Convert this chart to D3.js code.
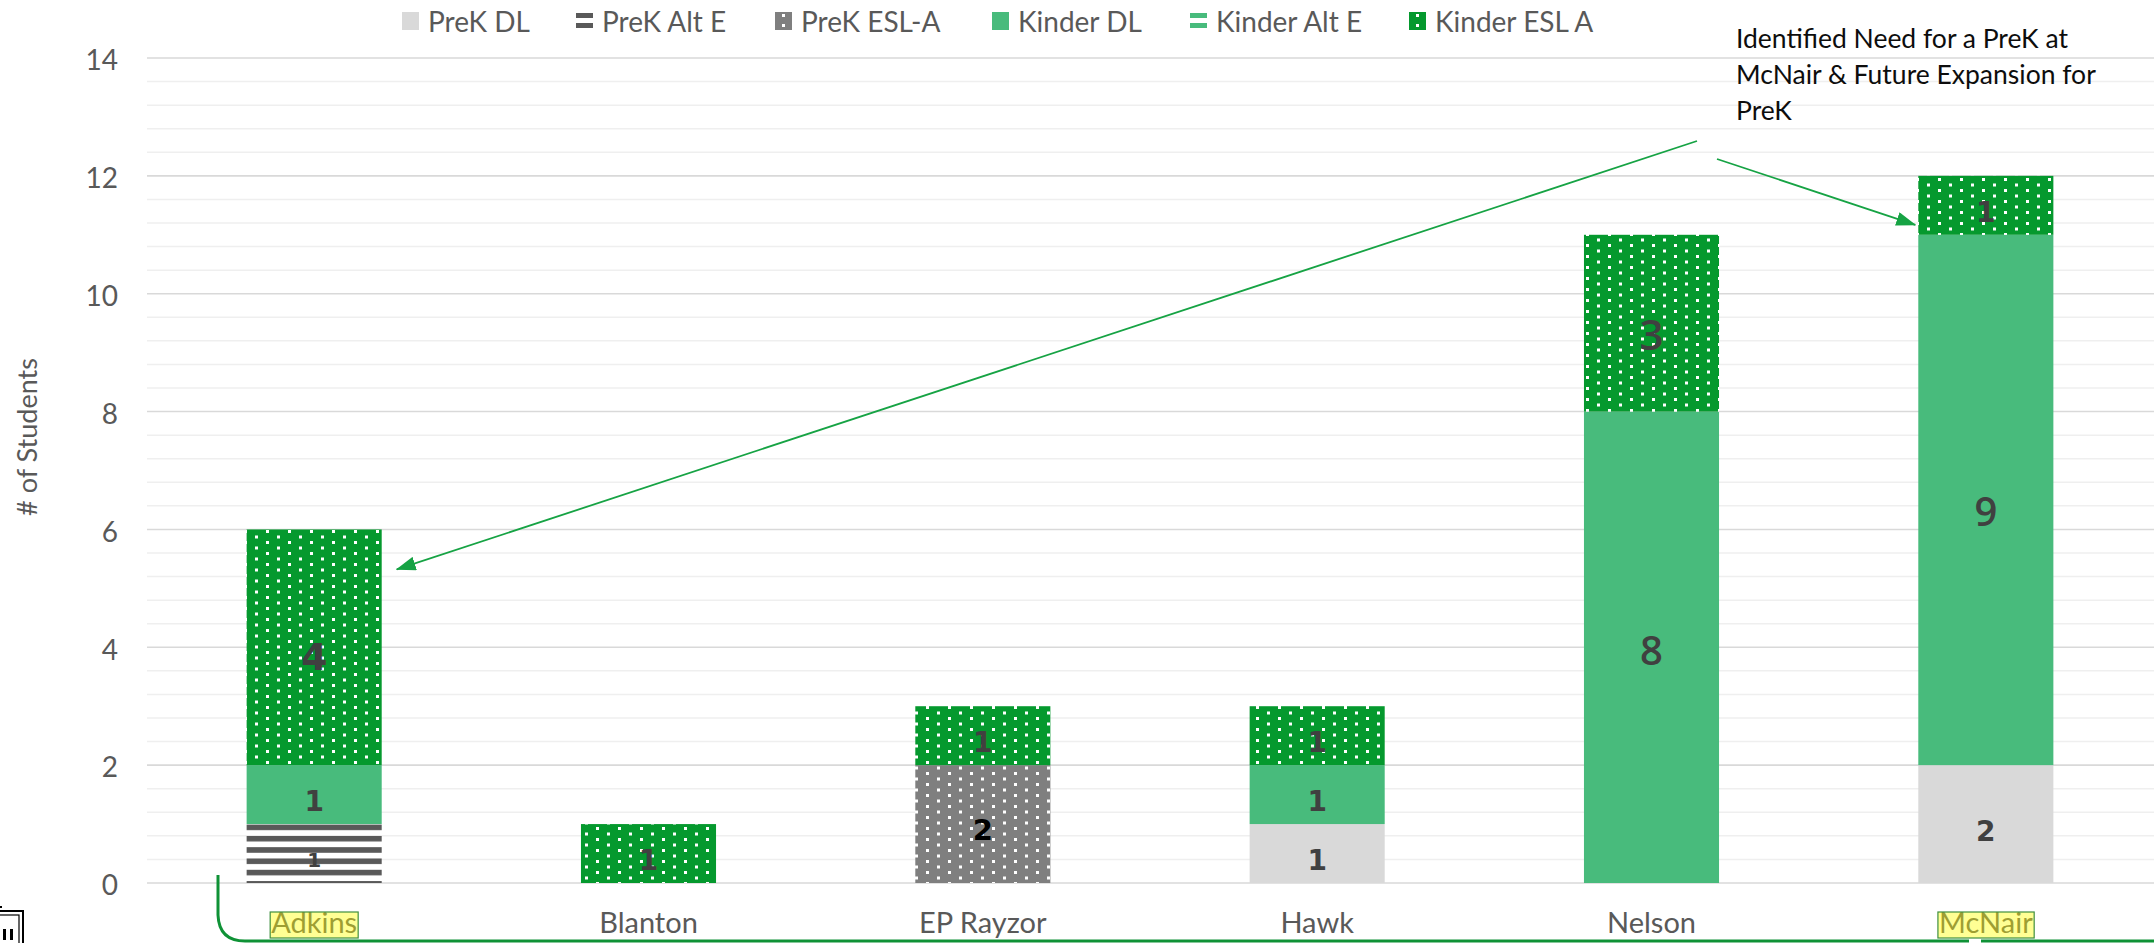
<!DOCTYPE html>
<html>
<head>
<meta charset="utf-8">
<script src="https://cdn.jsdelivr.net/npm/d3@7"></script>
<style>
  html, body { margin: 0; padding: 0; background: #ffffff; }
  svg { display: block; }
</style>
</head>
<body>
<script>
// ---------- DATA ----------
const categories = ["Adkins", "Blanton", "EP Rayzor", "Hawk", "Nelson", "McNair"];
const seriesNames = ["PreK DL", "PreK Alt E", "PreK ESL-A", "Kinder DL", "Kinder Alt E", "Kinder ESL A"];
const prekDL     = [0, 0, 0, 1, 0, 2];
const prekAltE   = [1, 0, 0, 0, 0, 0];
const prekESLA   = [0, 0, 2, 0, 0, 0];
const kinderDL   = [1, 0, 0, 1, 8, 9];
const kinderAltE = [0, 0, 0, 0, 0, 0];
const kinderESLA = [4, 1, 1, 1, 3, 1];
const yTicks = [0, 2, 4, 6, 8, 10, 12, 14];
const highlighted = ["Adkins", "McNair"];
const annotationLines = ["Identified Need for a PreK at", "McNair & Future Expansion for", "PreK"];
const yTitle = "# of Students";

// ---------- LAYOUT / STYLE ----------
const W = 2154, H = 943;
const seriesValues = [prekDL, prekAltE, prekESLA, kinderDL, kinderAltE, kinderESLA];
const table = categories.map((c, i) => {
  const row = { category: c };
  seriesNames.forEach((s, j) => row[s] = seriesValues[j][i]);
  return row;
});

const fills = {
  "PreK DL": "#d9d9d9",
  "PreK Alt E": "url(#stripeGray)",
  "PreK ESL-A": "url(#dotGray)",
  "Kinder DL": "#48bb7c",
  "Kinder Alt E": "url(#stripeGreen)",
  "Kinder ESL A": "url(#dotGreen)"
};

const svg = d3.select("body").append("svg").attr("width", W).attr("height", H);

const x = d3.scaleBand().domain(categories).range([147, 2153]).paddingInner(0.596).paddingOuter(0.298);
const y = d3.scaleLinear().domain([0, 14]).range([883, 58]);

// patterns
const defs = svg.append("defs");
function dotPattern(id, bg) {
  const p = defs.append("pattern").attr("id", id).attr("patternUnits", "userSpaceOnUse")
    .attr("width", 22).attr("height", 11).attr("x", 2).attr("y", 2);
  p.append("rect").attr("width", 22).attr("height", 11).attr("fill", bg);
  p.append("rect").attr("x", 0).attr("y", 0).attr("width", 3).attr("height", 3).attr("fill", "#fff");
  p.append("rect").attr("x", 11).attr("y", 5.5).attr("width", 3).attr("height", 3).attr("fill", "#fff");
}
function stripePattern(id, fg) {
  const p = defs.append("pattern").attr("id", id).attr("patternUnits", "userSpaceOnUse")
    .attr("width", 20).attr("height", 11.3).attr("x", 0).attr("y", y(1) + 0.5);
  p.append("rect").attr("width", 20).attr("height", 11.3).attr("fill", "#fff");
  p.append("rect").attr("width", 20).attr("height", 5.6).attr("fill", fg);
}
dotPattern("dotGray", "#7f7f7f");
dotPattern("dotGreen", "#05992e");
stripePattern("stripeGray", "#595959");
stripePattern("stripeGreen", "#48bb7c");

const arrowDef = defs.append("marker").attr("id", "arrowHead")
  .attr("markerUnits", "userSpaceOnUse").attr("viewBox", "0 0 20 14")
  .attr("refX", 19).attr("refY", 7).attr("markerWidth", 20).attr("markerHeight", 14)
  .attr("orient", "auto");
arrowDef.append("path").attr("d", "M0,0 L20,7 L0,14 Z").attr("fill", "#16a344");

// gridlines: minor every 0.4, major every 2
const minorTicks = d3.range(0, 14.0001, 0.4).filter(v => Math.abs(v / 2 - Math.round(v / 2)) > 1e-6);
svg.append("g").selectAll("line").data(minorTicks).join("line")
  .attr("x1", 147).attr("x2", W).attr("y1", d => y(d)).attr("y2", d => y(d))
  .attr("stroke", "#efefef").attr("stroke-width", 1.5);
svg.append("g").selectAll("line").data(yTicks).join("line")
  .attr("x1", 147).attr("x2", W).attr("y1", d => y(d)).attr("y2", d => y(d))
  .attr("stroke", "#d9d9d9").attr("stroke-width", 1.6);

// y axis labels
const yAxis = d3.axisLeft(y).tickValues(yTicks).tickSize(0).tickPadding(0);
const yG = svg.append("g").attr("transform", "translate(118,0)").call(yAxis);
yG.select(".domain").remove();
yG.selectAll("text").attr("font-family", "Lato, 'Open Sans', sans-serif").attr("font-size", 28)
  .attr("fill", "#595959").attr("dy", "0.42em").attr("x", 0);

// y title
svg.append("text").attr("transform", `translate(37,437) rotate(-90)`)
  .attr("text-anchor", "middle").attr("font-family", "Lato, 'Open Sans', sans-serif")
  .attr("font-size", 27).attr("fill", "#595959").text(yTitle);

// stacked bars
const stack = d3.stack().keys(seriesNames);
const stacked = stack(table);
const layers = svg.append("g").selectAll("g").data(stacked).join("g")
  .attr("fill", d => fills[d.key]);
layers.selectAll("rect").data(d => d.map(v => ({ v, key: d.key }))).join("rect")
  .attr("x", d => x(d.v.data.category))
  .attr("width", x.bandwidth())
  .attr("y", d => y(d.v[1]))
  .attr("height", d => y(d.v[0]) - y(d.v[1]));

// data labels
const labelStyle = {
  "Adkins|PreK Alt E": { size: 20, weight: "bold", family: "dejavu", color: "#404040", dy: 6 },
  "Adkins|Kinder ESL A": { size: 38, weight: "bold", family: "dejavu", color: "#404040", dy: 10 },
  "EP Rayzor|PreK ESL-A": { size: 29, weight: "bold", family: "dejavu", color: "#000000", dy: 6 },
  "Nelson|Kinder DL": { size: 40, weight: 600, family: "open", color: "#404040", dy: 2 },
  "Nelson|Kinder ESL A": { size: 42, weight: 600, family: "open", color: "#404040", dy: 10 },
  "McNair|Kinder DL": { size: 40, weight: 600, family: "open", color: "#404040", dy: 11 }
};
const labels = [];
stacked.forEach(layer => layer.forEach(v => {
  const val = v[1] - v[0];
  if (val > 0) labels.push({ cat: v.data.category, key: layer.key, val, mid: (v[0] + v[1]) / 2 });
}));
svg.append("g").selectAll("text").data(labels).join("text")
  .each(function (d) {
    const st = labelStyle[d.cat + "|" + d.key] || { size: 28, weight: "bold", family: "dejavu", color: "#404040", dy: 7 };
    d3.select(this)
      .attr("x", x(d.cat) + x.bandwidth() / 2)
      .attr("y", y(d.mid) + st.dy)
      .attr("dominant-baseline", "central")
      .attr("text-anchor", "middle")
      .attr("font-family", st.family === "dejavu" ? "'DejaVu Sans', sans-serif" : "'Open Sans', sans-serif")
      .attr("font-weight", st.weight)
      .attr("font-size", st.size)
      .attr("fill", st.color)
      .text(d.val);
  });

// category labels
const xAxis = d3.axisBottom(x).tickSize(0).tickPadding(0);
const xG = svg.append("g").attr("transform", "translate(0,933)").call(xAxis);
xG.select(".domain").remove();
xG.selectAll("text").attr("font-family", "Lato, 'Open Sans', sans-serif").attr("font-size", 29)
  .attr("fill", "#595959").attr("dy", 0).attr("y", 0);
// highlight boxes on Adkins / McNair
xG.selectAll(".tick").filter(d => highlighted.includes(d)).each(function () {
  const t = d3.select(this).select("text").node();
  const bb = t.getBBox();
  d3.select(this).append("rect")
    .attr("x", bb.x - 1).attr("y", -21).attr("width", bb.width + 2).attr("height", 26)
    .attr("fill", "#ffff00").attr("fill-opacity", 0.42)
    .attr("stroke", "#3f8f3f").attr("stroke-width", 1.2);
});

// legend
const legendX = [402, 576, 775, 992, 1190, 1409];
const legend = svg.append("g");
seriesNames.forEach((s, i) => {
  const g = legend.append("g").attr("transform", `translate(${legendX[i]},0)`);
  if (s === "PreK Alt E" || s === "Kinder Alt E") {
    const c = s === "PreK Alt E" ? "#595959" : "#48bb7c";
    g.append("rect").attr("x", 0).attr("y", 13).attr("width", 17).attr("height", 5).attr("fill", c);
    g.append("rect").attr("x", 0).attr("y", 23).attr("width", 17).attr("height", 5).attr("fill", c);
  } else if (s === "PreK ESL-A" || s === "Kinder ESL A") {
    const c = s === "PreK ESL-A" ? "#7f7f7f" : "#05992e";
    g.append("rect").attr("x", 0).attr("y", 12).attr("width", 17).attr("height", 18).attr("fill", c);
    g.append("rect").attr("x", 7).attr("y", 14).attr("width", 3).attr("height", 3).attr("fill", "#fff");
    g.append("rect").attr("x", 7).attr("y", 24).attr("width", 3).attr("height", 3).attr("fill", "#fff");
  } else {
    g.append("rect").attr("x", 0).attr("y", 12).attr("width", 17).attr("height", 18).attr("fill", fills[s]);
  }
  g.append("text").attr("x", 26).attr("y", 32).attr("font-family", "Lato, 'Open Sans', sans-serif")
    .attr("font-size", 28).attr("fill", "#595959").text(s);
});

// annotation text
const ann = svg.append("text").attr("font-family", "Lato, 'Open Sans', sans-serif")
  .attr("font-size", 26.5).attr("fill", "#0d0d0d");
annotationLines.forEach((l, i) => {
  ann.append("tspan").attr("x", 1736).attr("y", 48 + i * 36).text(l);
});

// arrows pointing to Adkins and McNair
svg.append("line")
  .attr("x1", 1697).attr("y1", 141)
  .attr("x2", x("Adkins") + x.bandwidth() + 15).attr("y2", y(6) + 40)
  .attr("stroke", "#16a344").attr("stroke-width", 1.8).attr("marker-end", "url(#arrowHead)");
svg.append("line")
  .attr("x1", 1717).attr("y1", 159)
  .attr("x2", x("McNair") - 3).attr("y2", y(12) + 49)
  .attr("stroke", "#16a344").attr("stroke-width", 1.8).attr("marker-end", "url(#arrowHead)");

// bracket under the category axis
svg.append("path")
  .attr("d", "M218,875 V915 Q219,941 245,941 H1969 M1981,941 H2160")
  .attr("fill", "none").attr("stroke", "#0f9236").attr("stroke-width", 3);

// small icon at bottom-left
const icon = svg.append("g");
icon.append("rect").attr("x", -4).attr("y", 911).attr("width", 27).attr("height", 40)
  .attr("fill", "#fff").attr("stroke", "#000").attr("stroke-width", 2);
icon.append("rect").attr("x", -4).attr("y", 915).attr("width", 23).attr("height", 36)
  .attr("fill", "none").attr("stroke", "#000").attr("stroke-width", 1.2);
icon.append("rect").attr("x", 3).attr("y", 929).attr("width", 3).attr("height", 11).attr("fill", "#000");
icon.append("rect").attr("x", 10).attr("y", 929).attr("width", 3).attr("height", 11).attr("fill", "#000");
icon.append("rect").attr("x", 0).attr("y", 906).attr("width", 2).attr("height", 2).attr("fill", "#000");
</script>
</body>
</html>
